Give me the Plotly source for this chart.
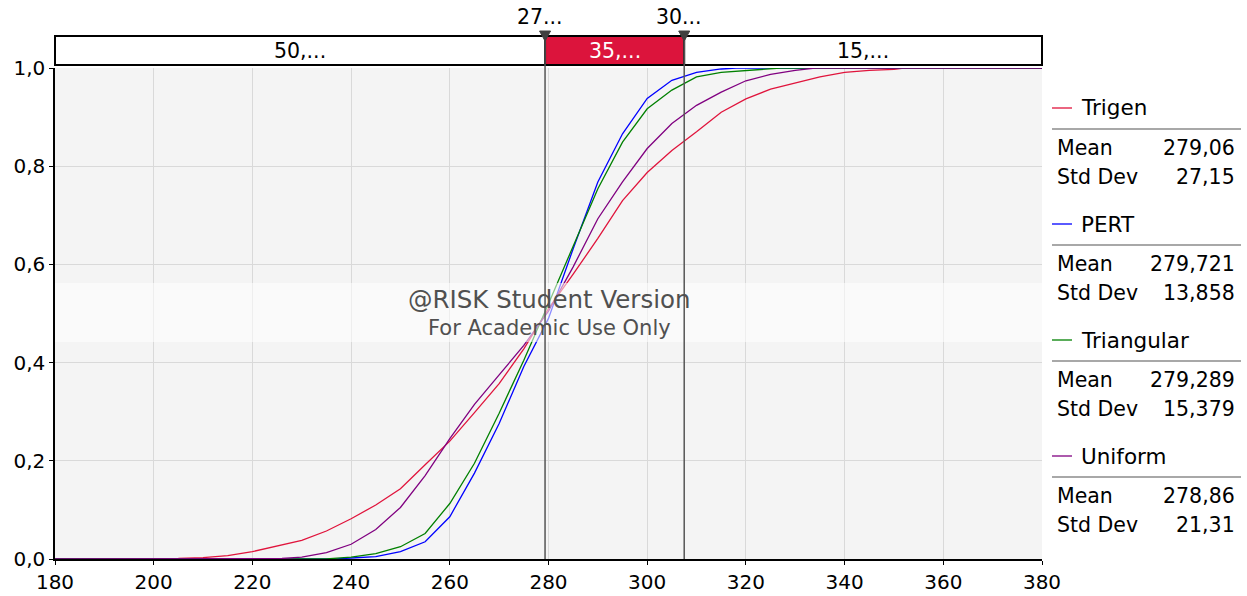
import plotly.graph_objects as go

# ---------------- data ----------------
trigen_x = [180, 203, 205, 210, 215, 220, 225, 230, 235, 240, 245, 250, 255, 260, 265, 270, 275,
            280, 285, 290, 295, 300, 305, 310, 315, 320, 325, 330, 335, 340, 345, 350, 352, 380]
trigen_y = [0, 0.001, 0.001, 0.003, 0.007, 0.015, 0.026, 0.038, 0.057, 0.082, 0.110, 0.143, 0.192,
            0.240, 0.298, 0.357, 0.428, 0.510, 0.580, 0.653, 0.730, 0.787, 0.832, 0.870, 0.910,
            0.937, 0.957, 0.970, 0.982, 0.991, 0.995, 0.997, 1.0, 1.0]

pert_x = [180, 237, 240, 245, 250, 255, 260, 265, 270, 275, 280, 285, 290, 295, 300, 305, 310,
          315, 318, 380]
pert_y = [0, 0, 0.002, 0.005, 0.015, 0.035, 0.086, 0.175, 0.276, 0.392, 0.490, 0.632, 0.768,
          0.866, 0.938, 0.975, 0.991, 0.998, 1.0, 1.0]

tri_x = [180, 235, 240, 245, 250, 255, 260, 265, 270, 275, 280, 285, 290, 295, 300, 305, 310,
         315, 320, 325, 327, 380]
tri_y = [0, 0, 0.004, 0.011, 0.025, 0.052, 0.113, 0.195, 0.297, 0.405, 0.520, 0.636, 0.754,
         0.849, 0.917, 0.955, 0.982, 0.991, 0.995, 0.998, 1.0, 1.0]

uni_x = [180, 226, 230, 235, 240, 245, 250, 255, 260, 265, 270, 275, 280, 285, 290, 295, 300,
         305, 310, 315, 320, 325, 330, 334, 380]
uni_y = [0, 0.001, 0.004, 0.013, 0.030, 0.060, 0.105, 0.170, 0.245, 0.315, 0.375, 0.435, 0.505,
         0.595, 0.693, 0.768, 0.836, 0.887, 0.924, 0.951, 0.974, 0.987, 0.995, 1.0, 1.0]

series_names = ["Trigen", "PERT", "Triangular", "Uniform"]
series_colors = ["#E0143C", "#0000FF", "#008000", "#800080"]
series_mean = ["279,06", "279,721", "279,289", "278,86"]
series_std = ["27,15", "13,858", "15,379", "21,31"]

x_ticks = [180, 200, 220, 240, 260, 280, 300, 320, 340, 360, 380]
y_ticks = [0, 0.2, 0.4, 0.6, 0.8, 1.0]
y_ticklabels = ["0,0", "0,2", "0,4", "0,6", "0,8", "1,0"]

split_values = [279.3, 307.5]
split_labels = ["27...", "30..."]
band_labels = ["50,...", "35,...", "15,..."]

# ---------------- layout geometry ----------------
W, H = 1247, 596
L, R, T, B = 55, 1042, 68, 559
FONT = "DejaVu Sans"


def px(xp):
    return (xp - L) / (R - L)


def py(yp):
    return (B - yp) / (B - T)


fig = go.Figure()
for xs, ys, name, col in zip([trigen_x, pert_x, tri_x, uni_x], [trigen_y, pert_y, tri_y, uni_y],
                             series_names, series_colors):
    fig.add_trace(go.Scatter(x=xs, y=ys, mode="lines", name=name,
                             line=dict(color=col, width=1.3), showlegend=False))

shapes = []
annotations = []


def txt(x, y, text, size=19, color="black", xanchor="center", xref="paper"):
    annotations.append(dict(xref=xref, yref="paper", x=x, y=y, text=text, showarrow=False,
                            xanchor=xanchor, yanchor="middle",
                            font=dict(family=FONT, size=size, color=color)))


# watermark band
shapes.append(dict(type="rect", xref="paper", yref="paper", x0=0, x1=1, y0=py(342), y1=py(283),
                   fillcolor="rgba(255,255,255,0.55)", line=dict(width=0), layer="above"))
txt(px(549), py(299), "@RISK Student Version", size=24.5, color="#505050")
txt(px(549), py(328), "For Academic Use Only", size=21, color="#505050")

# top band
band_y0, band_y1 = py(65), py(36)
shapes.append(dict(type="rect", xref="paper", yref="paper", x0=0, x1=1, y0=band_y0, y1=band_y1,
                   fillcolor="white", line=dict(color="black", width=2), layer="above"))
shapes.append(dict(type="rect", xref="x", yref="paper", x0=split_values[0], x1=split_values[1],
                   y0=band_y0, y1=band_y1, fillcolor="#DC143C", line=dict(color="black", width=2),
                   layer="above"))
centers = [(180 + split_values[0]) / 2, (split_values[0] + split_values[1]) / 2,
           (split_values[1] + 380) / 2]
for c, t, colr in zip(centers, band_labels, ["black", "white", "black"]):
    txt(c, py(51), t, size=20.5, color=colr, xref="x")

for v, lab in zip(split_values, split_labels):
    shapes.append(dict(type="line", xref="x", yref="paper", x0=v, x1=v, y0=0, y1=band_y1,
                       line=dict(color="#555555", width=1.5), layer="above"))
    hw = 5.5 / ((R - L) / 200)
    shapes.append(dict(type="path", xref="x", yref="paper",
                       path=f"M {v - hw},{py(31)} L {v + hw},{py(31)} L {v},{py(41)} Z",
                       fillcolor="#404040", line=dict(color="#404040", width=1), layer="above"))
    txt(v - 1, py(17), lab, size=20.5, xref="x")

# legend block
for i, (name, col, mn, sd) in enumerate(zip(series_names, series_colors, series_mean, series_std)):
    base = 108 + 116 * i
    shapes.append(dict(type="line", xref="paper", yref="paper", x0=px(1052), x1=px(1072),
                       y0=py(base), y1=py(base), line=dict(color=col, width=1.3)))
    txt(px(1079), py(base), name, size=21.5, xanchor="left")
    shapes.append(dict(type="line", xref="paper", yref="paper", x0=px(1052), x1=px(1241),
                       y0=py(base + 21), y1=py(base + 21), line=dict(color="#A8A8A8", width=2)))
    for dy, lab, val in [(40, "Mean", mn), (69, "Std Dev", sd)]:
        txt(px(1055), py(base + dy), lab, size=20.5, xanchor="left")
        txt(px(1237), py(base + dy), val, size=20.5, xanchor="right")

fig.update_layout(
    width=W, height=H,
    margin=dict(l=L, r=W - R, t=T, b=H - B, pad=0),
    paper_bgcolor="white", plot_bgcolor="#F4F4F4",
    shapes=shapes, annotations=annotations,
    font=dict(family=FONT, size=19, color="black"),
    xaxis=dict(range=[180, 380], tickvals=x_ticks, ticktext=[str(v) for v in x_ticks],
               showgrid=True, gridcolor="#D9D9D9", gridwidth=1, zeroline=False,
               showline=True, linecolor="black", linewidth=1.5, ticks="outside", ticklen=4,
               tickcolor="black", tickfont=dict(family=FONT, size=20), automargin=False),
    yaxis=dict(range=[0, 1], tickvals=y_ticks, ticktext=y_ticklabels,
               showgrid=True, gridcolor="#D9D9D9", gridwidth=1, zeroline=False,
               showline=True, linecolor="black", linewidth=1.5, ticks="outside", ticklen=4,
               tickcolor="black", tickfont=dict(family=FONT, size=20), automargin=False),
)

fig.write_html("out.html", post_script="document.body.style.margin='0';",
               config={"displayModeBar": False})
